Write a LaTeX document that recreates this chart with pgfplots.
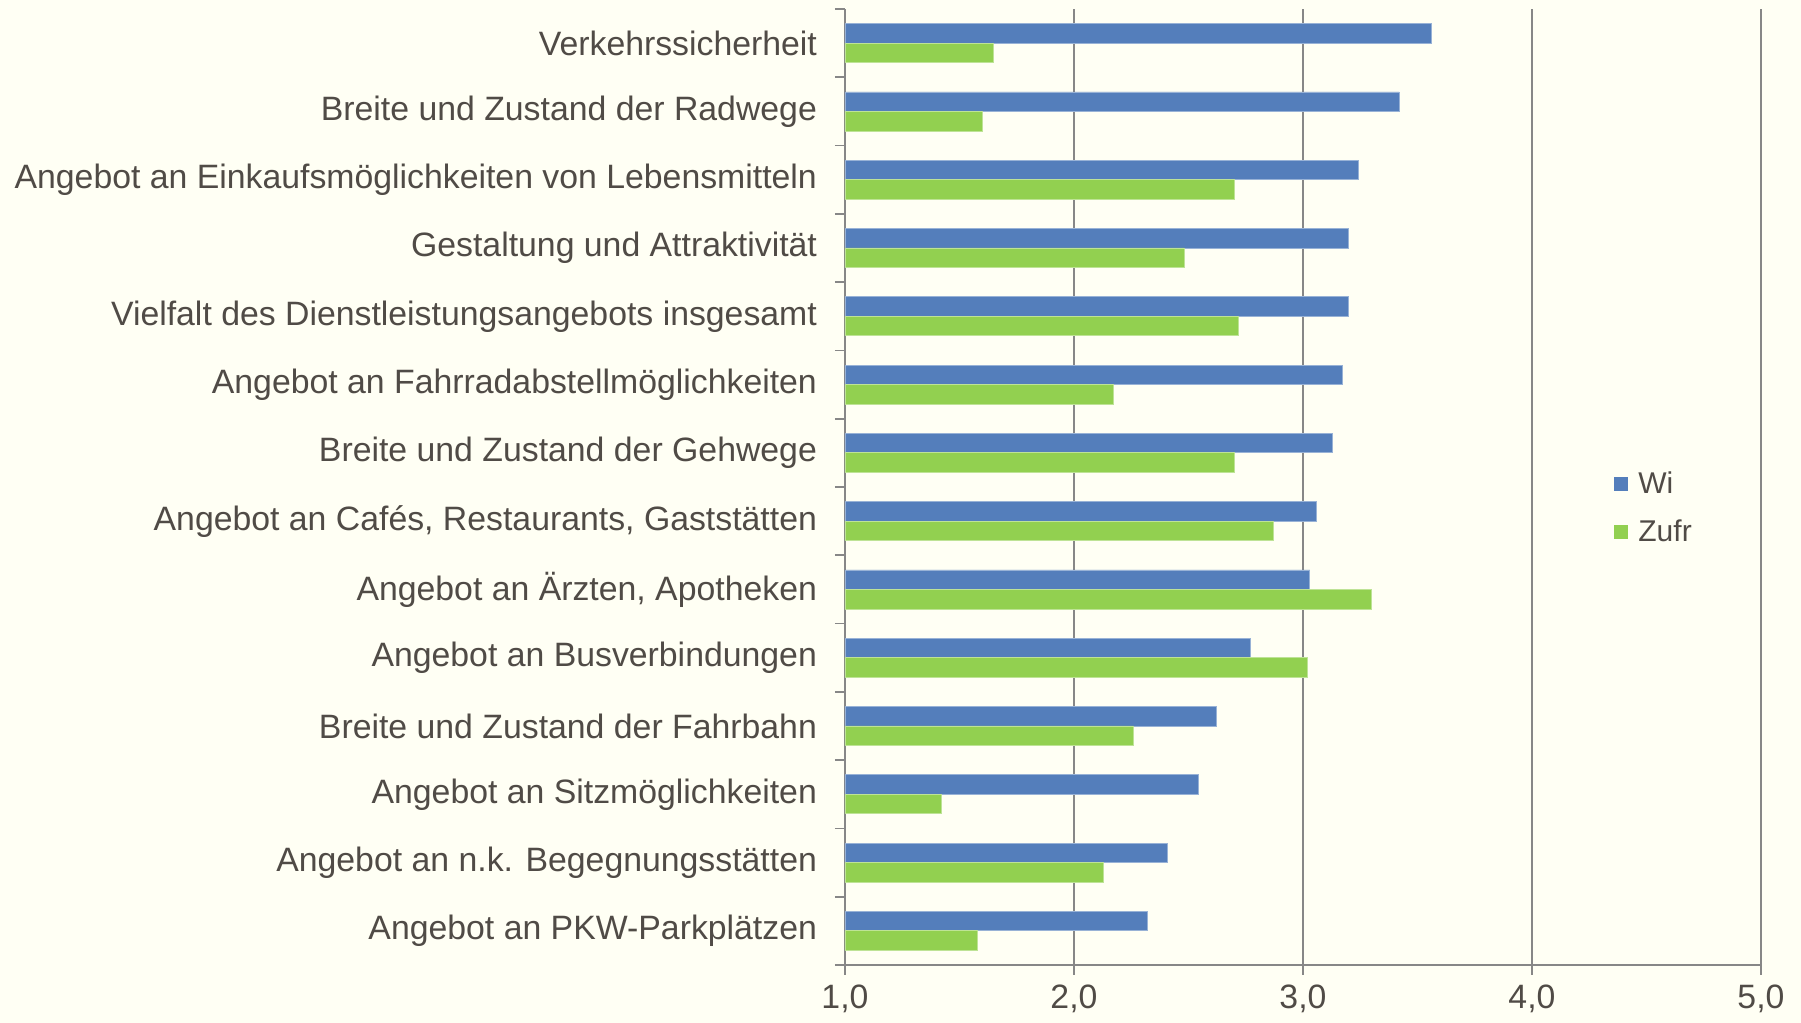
\documentclass[border=0pt]{standalone}
\usepackage{pgfplots}
\pgfplotsset{compat=1.18}
\usepackage{fontspec}
\setmainfont{Liberation Sans}
\definecolor{bg}{RGB}{255,255,244}
\definecolor{wi}{RGB}{84,126,187}
\definecolor{zu}{RGB}{146,208,80}
\definecolor{txt}{RGB}{80,75,70}
\definecolor{gridc}{RGB}{135,135,135}
\begin{document}
\begin{tikzpicture}
\path[use as bounding box, fill=bg] (-422.5pt,-29pt) rectangle (478pt,482.5pt);
\begin{axis}[
  at={(0,0)}, anchor=south west,
  scale only axis, width=458pt, height=478pt,
  xbar=0pt, bar width=9.75pt,
  xmin=1, xmax=5, ymin=-0.5, ymax=13.5,
  axis lines=left,
  axis line style={-, draw=gridc, line width=0.8pt},
  tick align=outside,
  major tick length=5pt, minor tick length=5pt,
  xtick={1,2,3,4,5},
  xmajorgrids, grid style={gridc, line width=0.8pt},
  xtick style={draw=gridc, line width=0.8pt},
  ytick={0,...,13},
  major y tick style={draw=none},
  minor ytick={-0.5,0.5,...,13.5},
  minor y tick style={draw=gridc, line width=0.8pt},
  yticklabels={
    Angebot an PKW-Parkplätzen,
    Angebot an n.k. Begegnungsstätten,
    Angebot an Sitzmöglichkeiten,
    Breite und Zustand der Fahrbahn,
    Angebot an Busverbindungen,
    {Angebot an Ärzten, Apotheken},
    {Angebot an Cafés, Restaurants, Gaststätten},
    Breite und Zustand der Gehwege,
    Angebot an Fahrradabstellmöglichkeiten,
    Vielfalt des Dienstleistungsangebots insgesamt,
    Gestaltung und Attraktivität,
    Angebot an Einkaufsmöglichkeiten von Lebensmitteln,
    Breite und Zustand der Radwege,
    Verkehrssicherheit},
  /pgf/number format/assume math mode=true,
  every tick label/.append style={font=\fontsize{16.9}{20}\selectfont, text=txt},
  y tick label style={anchor=east, xshift=-5.5pt},
  x tick label style={yshift=-1.5pt},
  xticklabel={\pgfmathprintnumber[fixed,fixed zerofill,precision=1,use comma,assume math mode=true]{\tick}},
  legend style={at={(axis description cs:0.833,0.478)}, anchor=west, draw=none, fill=none,
    font=\fontsize{15}{18}\selectfont, text=txt, row sep=8pt},
  legend cell align=left,
  legend image code/.code={\fill[#1,draw=none] (0pt,-3.5pt) rectangle (7pt,3.5pt);},
]
\addplot[fill=wi, draw=wi!60!white, bar shift=4.875pt] coordinates {
  (3.56,13) (3.42,12) (3.24,11) (3.20,10) (3.20,9) (3.17,8) (3.13,7)
  (3.06,6) (3.03,5) (2.77,4) (2.62,3) (2.545,2) (2.41,1) (2.32,0)};
\addlegendentry{\hspace{3pt}Wi}
\addplot[fill=zu, draw=zu!60!white, bar shift=-4.875pt] coordinates {
  (1.65,13) (1.60,12) (2.70,11) (2.48,10) (2.72,9) (2.17,8) (2.70,7)
  (2.87,6) (3.30,5) (3.02,4) (2.26,3) (1.42,2) (2.13,1) (1.58,0)};
\addlegendentry{\hspace{3pt}Zufr}
\end{axis}
\end{tikzpicture}
\end{document}
